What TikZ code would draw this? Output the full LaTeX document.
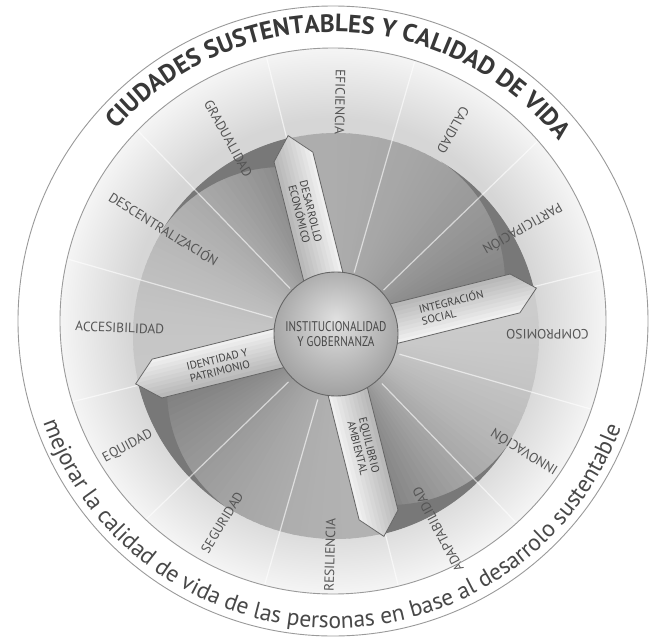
\documentclass[tikz,border=0pt]{standalone}
\usepackage{fontspec}
\setmainfont{PT Sans}
\newfontfamily\condf[FakeStretch=0.8]{PT Sans}
\usetikzlibrary{decorations.text,calc}
\definecolor{labelc}{HTML}{555555}
\definecolor{titlec}{HTML}{383838}
\definecolor{subc}{HTML}{484848}
\definecolor{ringc}{HTML}{9A9A9A}
\definecolor{armedge}{HTML}{666666}
\pgfdeclareradialshading{innerbg}{\pgfpoint{0bp}{0bp}}{color(0bp)=(black!16); color(18.6bp)=(black!16); color(25bp)=(black!4); color(50bp)=(black!4)}
\pgfdeclareradialshading{ballg}{\pgfpoint{0bp}{6bp}}{color(0bp)=(black!12); color(31bp)=(black!40); color(50bp)=(black!40)}
\tikzset{
  ringlabel/.style={font=\fontsize{13.5}{13.5}\selectfont, text=labelc, inner sep=0pt},
  armlabel/.style={font=\fontsize{11}{12}\selectfont, text=black!75, inner sep=0pt, align=center},
  ringline/.style={draw=ringc, line width=0.9},
  armborder/.style={draw=armedge, line width=0.8, line join=round},
  spoke/.style={white, opacity=0.6, line width=1.2}
}
\begin{document}
\begin{tikzpicture}[x=1pt,y=1pt]
\useasboundingbox (-336,-307) rectangle (316,336);
\fill[white] (-336,-307) rectangle (316,336);
\coordinate (rc) at (-3,15);
\coordinate (o) at (0,0);
% light inner field
\shade[shading=innerbg] (rc) circle (273);
% central disk with angular gradient per quadrant
\foreach \a/\dz/\dw in {14/50/32, 104/48/22, 194/52/30, 284/52/20}{
  \foreach \i in {0,...,44}{
    \pgfmathsetmacro\cc{\dw+(\dz-\dw)*(1-\i/44)^2}
    \fill[black!\cc] (o) -- ({\a+2*\i-0.4}:203) arc[start angle={\a+2*\i-0.4}, end angle={\a+2*\i+2.4}, radius=203] -- cycle;
  }
}
% dark walls next to each arm
\foreach \a in {14,104,194,284}{
  \fill[black!53] plot[domain=\a:\a+45, samples=30] (\x:203.5) -- plot[domain=\a+45:\a, samples=30] (\x:{203.5-30*((\a+45-\x)/45)^1.6}) -- cycle;
}
% spokes
\begin{scope}
  \clip (rc) circle (272);
  \foreach \k in {0,...,11} \draw[spoke] (104-30*\k:66) -- (104-30*\k:300);
\end{scope}
% arms
\foreach \a in {104,14,194,284}{
  \begin{scope}[rotate=\a]
    \begin{scope}
      \clip (40,-22) -- (184,-22) -- (206,-2) -- (184,18) -- (40,18) -- cycle;
      \foreach \j in {0,...,9}{
        \pgfmathsetmacro\ac{6+2.4*\j}
        \fill[black!\ac] (30,{-22.5+4*\j}) rectangle (210,{-17.5+4*\j});
      }
    \end{scope}
    \draw[armborder] (40,-22) -- (184,-22) -- (206,-2) -- (184,18) -- (40,18);
  \end{scope}
}
% centre
\node[circle, minimum size=124pt, inner sep=0pt, shading=ballg, draw=armedge, line width=0.9,
      align=center, font=\condf\fontsize{14}{15}\selectfont, text=black!72] (core) at (0,2)
      {INSTITUCIONALIDAD\\Y GOBERNANZA};
% arm labels
\node[armlabel, rotate=-76] (tN) at (104:127) {DESARROLLO\\ECONÓMICO};
\node[armlabel, rotate=14, align=left] (tE) at (14:120) {INTEGRACIÓN\\SOCIAL};
\node[armlabel, rotate=14] (tW) at (194:121) {IDENTIDAD Y\\PATRIMONIO};
\node[armlabel, rotate=-76] (tS) at (284:114) {EQUILIBRIO\\AMBIENTAL};
% ring labels
\foreach \ang/\rr/\txt [count=\i] in {89/267/EFICIENCIA, 60.4/263/CALIDAD, 29.7/260/PARTICIPACIÓN,
   0.5/253/COMPROMISO, -31.9/259/INNOVACIÓN, -62.2/266/ADAPTABILIDAD, -91.6/256/RESILIENCIA,
   -121.4/253/SEGURIDAD, -152.1/263/EQUIDAD, 177.8/261/ACCESIBILIDAD, 148/266/DESCENTRALIZACIÓN,
   118.6/268/GRADUALIDAD}{
  \node[ringlabel, rotate=\ang+180, anchor=west] (lab\i) at (\ang:\rr) {\txt};
}
% ring circles
\draw[ringline] (rc) circle (273);
\draw[ringline] (rc) circle (315);
% curved texts
\path[decorate, decoration={text along path, text color=titlec, text align=center,
   text={|\fontsize{25}{25}\selectfont\bfseries|CIUDADES SUSTENTABLES Y CALIDAD DE VIDA}}]
   ($(rc)+(140:289)$) arc[start angle=140, end angle=37, radius=289];
\path[decorate, decoration={text along path, text color=subc, text align=center,
   text={|\fontsize{23.5}{23.5}\selectfont|mejorar la calidad de vida de las personas en base al desarrolo sustentable}}]
   ($(rc)+(195:307)$) arc[start angle=195, end angle=344, radius=307];
\end{tikzpicture}
\end{document}
